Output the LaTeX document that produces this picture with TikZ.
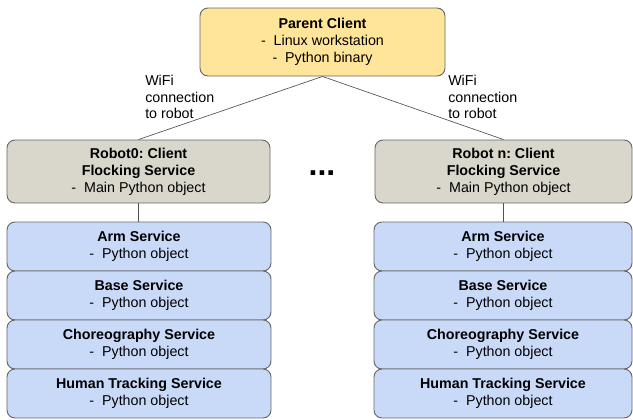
\documentclass[tikz,border=0pt]{standalone}
\usepackage{fontspec}
\setmainfont{Liberation Sans}
\usepackage{color}
\definecolor{parentcol}{HTML}{FFE599}
\definecolor{robotcol}{HTML}{D9D7CB}
\definecolor{servcol}{HTML}{C9DAF8}
\definecolor{edgecol}{HTML}{666666}
\frenchspacing

\begin{document}
\begin{tikzpicture}[x=0.75pt,y=-0.75pt,
	box/.style={draw=edgecol,line width=0.7pt,rounded corners=6pt,align=center,inner sep=0pt,font=\fontsize{10.7}{12.75}\selectfont},
	link/.style={draw=edgecol!80!black,line width=0.5pt}]
	\useasboundingbox (0,0) rectangle (633,419);
	% parent and robots
	\node[box,fill=parentcol,minimum width=245*0.75pt,minimum height=68*0.75pt] (parent) at (322.5,42) {\textbf{Parent Client}\\-\ \ Linux workstation\\-\ \ Python binary};
	\node[box,fill=robotcol,minimum width=263*0.75pt,minimum height=63*0.75pt] (r0) at (138.5,171.5) {\textbf{Robot0: Client}\\\textbf{Flocking Service}\\-\ \ Main Python object};
	\node[box,fill=robotcol,minimum width=257*0.75pt,minimum height=63*0.75pt] (rn) at (503.5,171.5) {\textbf{Robot n: Client}\\\textbf{Flocking Service}\\-\ \ Main Python object};
	\node[anchor=base,font=\fontsize{24}{24}\selectfont\bfseries] (dots) at (322,175) {...};
	\draw[link] (parent.south) -- (r0.north);
	\draw[link] (parent.south) -- (rn.north);
	\node[anchor=west,align=left,inner sep=0pt,font=\fontsize{10.7}{12.4}\selectfont] (wifi0) at (145,97) {WiFi\\connection\\to robot};
	\node[anchor=west,align=left,inner sep=0pt,font=\fontsize{10.7}{12.4}\selectfont] (wifin) at (448,97) {WiFi\\connection\\to robot};
	% services
	\foreach \i/\name in {0/Arm Service,1/Base Service,2/Choreography Service,3/Human Tracking Service}
	{
		\node[box,fill=servcol,minimum width=264*0.75pt,minimum height=49*0.75pt] (s0\i) at (139,246.5+49*\i) {\textbf{\name}\\-\ \ Python object};
		\node[box,fill=servcol,minimum width=258*0.75pt,minimum height=49*0.75pt] (sn\i) at (503,246.5+49*\i) {\textbf{\name}\\-\ \ Python object};
	}
	\draw[link] (r0.south) -- (r0.south |- s00.north);
	\draw[link] (rn.south) -- (rn.south |- sn0.north);
\end{tikzpicture}
\end{document}
